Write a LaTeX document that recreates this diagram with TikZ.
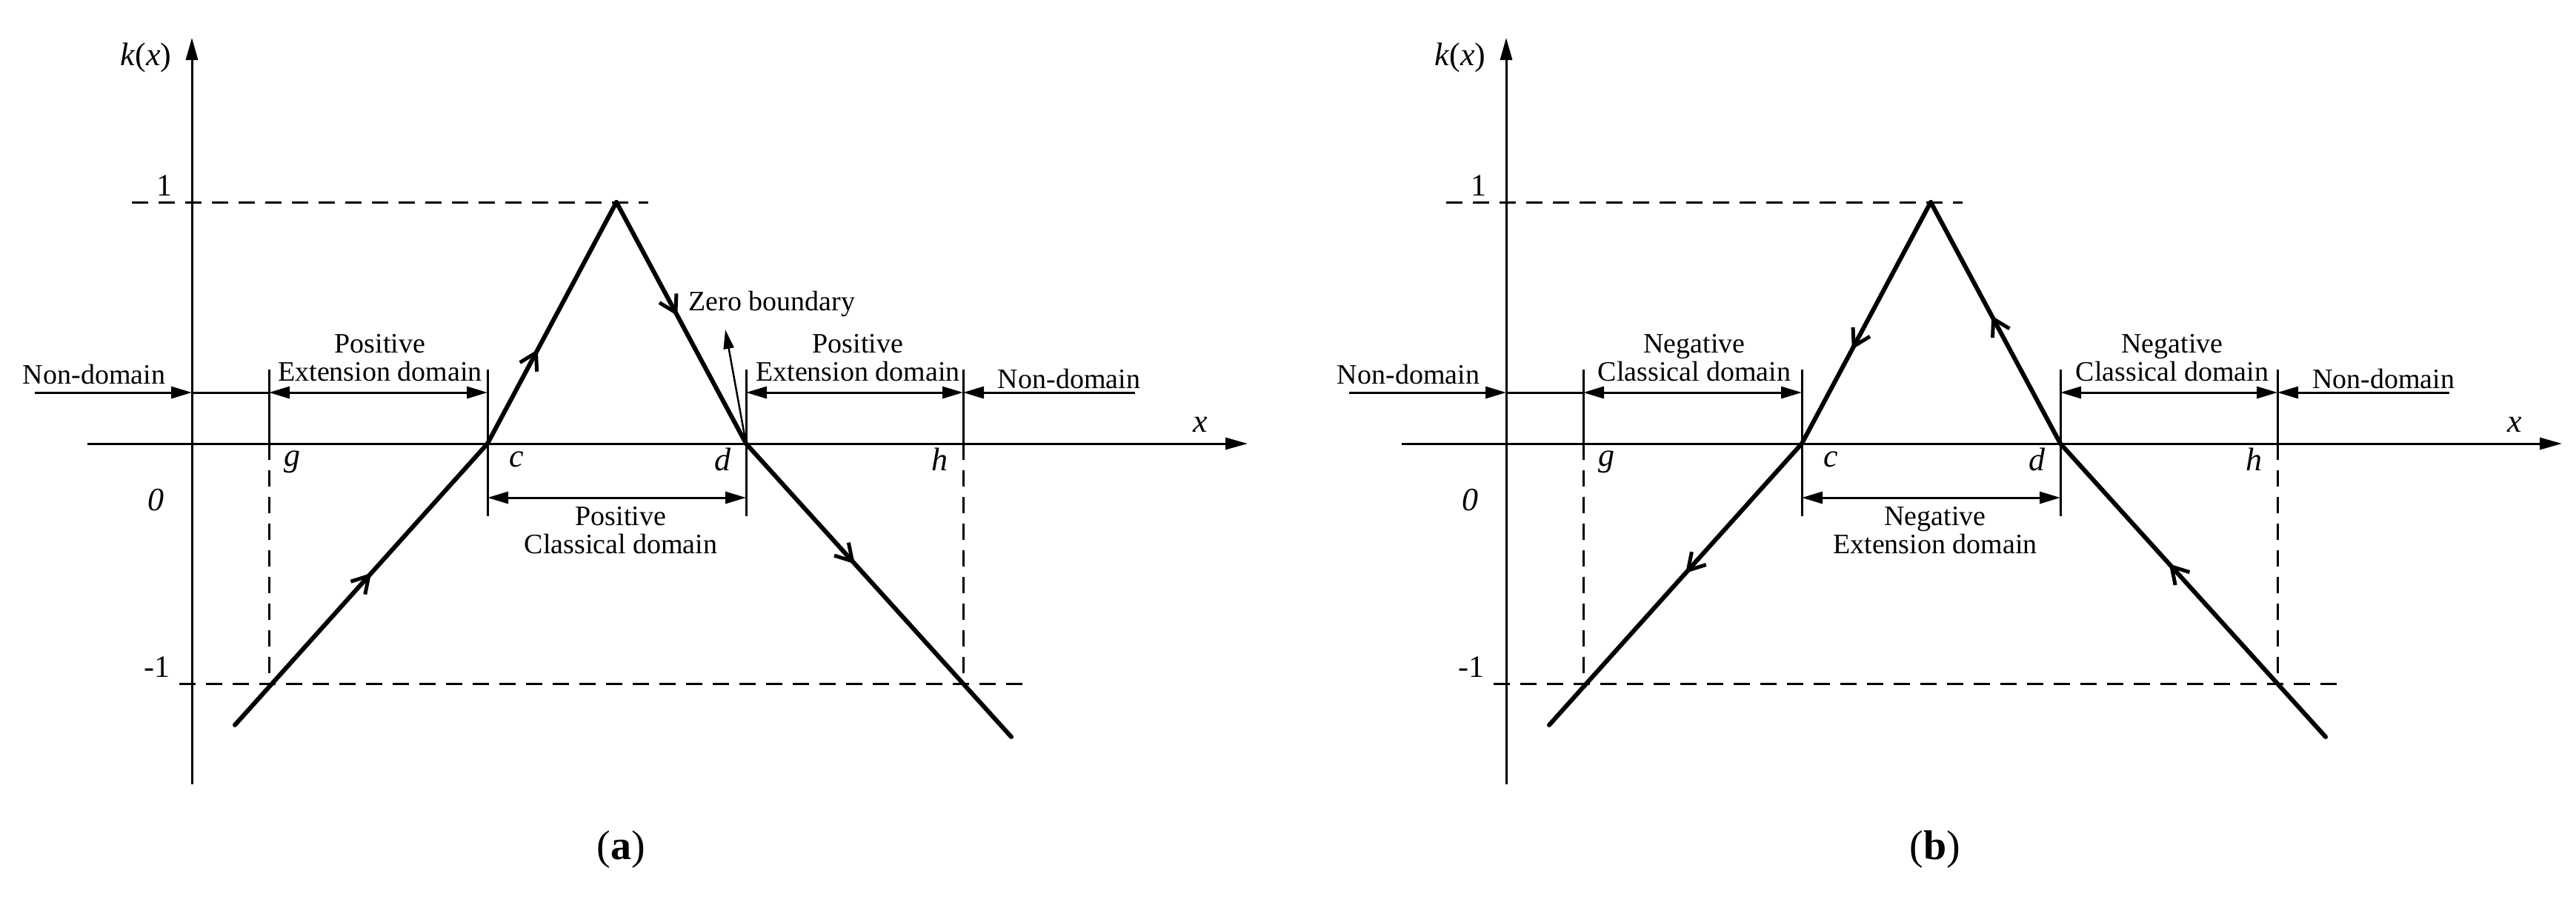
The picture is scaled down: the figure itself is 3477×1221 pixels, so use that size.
\documentclass[tikz,border=0pt]{standalone}
\usepackage{fontspec}
\setmainfont{Liberation Serif}
\usetikzlibrary{arrows.meta,decorations.markings}
\tikzset{
  ax/.style={line width=3pt,-{Triangle[length=30pt,width=16pt]}},
  curve/.style={line width=6pt,line cap=round},
  dsh/.style={line width=3pt,dash pattern=on 22pt off 14pt},
  tick/.style={line width=3pt},
  dim/.style={line width=3pt,{Triangle[length=28pt,width=16pt]}-{Triangle[length=28pt,width=16pt]}},
  dimr/.style={line width=3pt,-{Triangle[length=28pt,width=16pt]}},
  lbl/.style={font=\fontsize{38}{42}\selectfont,align=center,inner sep=0pt},
  ilbl/.style={font=\fontsize{44}{46}\selectfont\itshape,inner sep=0pt},
  fwd/.style={postaction={decorate},decoration={markings,mark=at position #1 with {\arrow{Straight Barb[length=22pt,width=26pt,line width=5pt]}}}},
  bwd/.style={postaction={decorate},decoration={markings,mark=at position #1 with {\arrowreversed{Straight Barb[length=22pt,width=26pt,line width=5pt]}}}},
}
\newcommand{\mypanel}[6]{%
 \begin{scope}[xshift=#1]
  \coordinate (#2O) at (259,599);
  \coordinate (#2yb) at (259,1059); \coordinate (#2yt) at (259,51);
  \coordinate (#2xl) at (118,599); \coordinate (#2xr) at (1684,599);
  \coordinate (#2P) at (832,273);
  \coordinate (#2c) at (658,599); \coordinate (#2d) at (1007,599);
  \coordinate (#2g) at (363,599); \coordinate (#2h) at (1300,599);
  \coordinate (#2L) at (317,979); \coordinate (#2R) at (1365,995);
  \coordinate (#2ga) at (363,923); \coordinate (#2ha) at (1300,923);
  \coordinate (#2m1l) at (242,923); \coordinate (#2m1r) at (1381,923);
  \coordinate (#2p1l) at (178,273); \coordinate (#2p1r) at (875,273);
  \coordinate (#2gt) at (363,499); \coordinate (#2ct) at (658,499);
  \coordinate (#2dt) at (1007,499); \coordinate (#2ht) at (1300,499);
  \coordinate (#2cb) at (658,697); \coordinate (#2db) at (1007,697);
  \coordinate (#2nl) at (47,530); \coordinate (#2nr) at (1532,530);
  \draw[ax] (#2yb) -- (#2yt);
  \draw[ax] (#2xl) -- (#2xr);
  \draw[dsh] (#2p1l) -- (#2p1r);
  \draw[dsh] (#2m1l) -- (#2m1r);
  \draw[dsh] (#2g) -- (#2ga);
  \draw[dsh] (#2h) -- (#2ha);
  \draw[tick] (#2gt) -- (#2g);
  \draw[tick] (#2ct) -- (#2cb);
  \draw[tick] (#2dt) -- (#2db);
  \draw[tick] (#2ht) -- (#2h);
  \draw[#6=0.54,curve] (#2L) -- (#2c);
  \draw[#6=0.39,curve] (#2c) -- (#2P);
  \draw[#6=0.47,curve] (#2P) -- (#2d) node[pos=0] (#2peak) {};
  \draw[#6=0.41,curve] (#2d) -- (#2R);
  \draw[dimr] (#2nl) -- (259,530);
  \draw[tick] (259,530) -- (363,530);
  \draw[dim] (363,530) -- (658,530);
  \draw[dim] (1007,530) -- (1300,530);
  \draw[dimr] (#2nr) -- (1300,530);
  \draw[dim] (658,672) -- (1007,672);
  \node[ilbl] (#2kx) at (197,78) {k\textup{(}x\textup{)}};
  \node[ilbl] (#2xx) at (1620,573) {x};
  \node[lbl,font=\fontsize{42}{44}\selectfont] (#2one) at (222,251) {1};
  \node[ilbl] (#2zero) at (210,675) {0};
  \node[lbl,font=\fontsize{42}{44}\selectfont] (#2mone) at (212,901) {-1};
  \node[ilbl] (#2gl) at (394,624) {g};
  \node[ilbl] (#2cl) at (697,620) {c};
  \node[ilbl] (#2dl) at (975,620) {d};
  \node[ilbl] (#2hl) at (1268,620) {h};
  \node[lbl] (#2nd1) at (127,505) {Non-domain};
  \node[lbl] (#2nd2) at (1443,511) {Non-domain};
  \node[lbl] (#2e1) at (513,483) {#3\\[-4pt]#4};
  \node[lbl] (#2e2) at (1158,483) {#3\\[-4pt]#4};
  \node[lbl] (#2cd) at (838,716) {#3\\[-4pt]#5};
 \end{scope}}
\begin{document}
\begin{tikzpicture}[x=1pt,y=-1pt]
\useasboundingbox (0,0) rectangle (3477,1221);
\mypanel{0pt}{a}{Positive}{Extension domain}{Classical domain}{fwd}
\mypanel{1774pt}{b}{Negative}{Classical domain}{Extension domain}{bwd}
\coordinate (zt) at (979,445);
\draw[line width=2.5pt,-{Triangle[length=26pt,width=14pt]}] (ad) -- (zt);
\node[lbl] (zb) at (1042,410) {Zero boundary};
\node[font=\fontsize{56}{60}\selectfont,inner sep=0pt] (capa) at (838,1147) {(\textbf{a})};
\node[font=\fontsize{56}{60}\selectfont,inner sep=0pt] (capb) at (2612,1147) {(\textbf{b})};
\end{tikzpicture}
\end{document}
